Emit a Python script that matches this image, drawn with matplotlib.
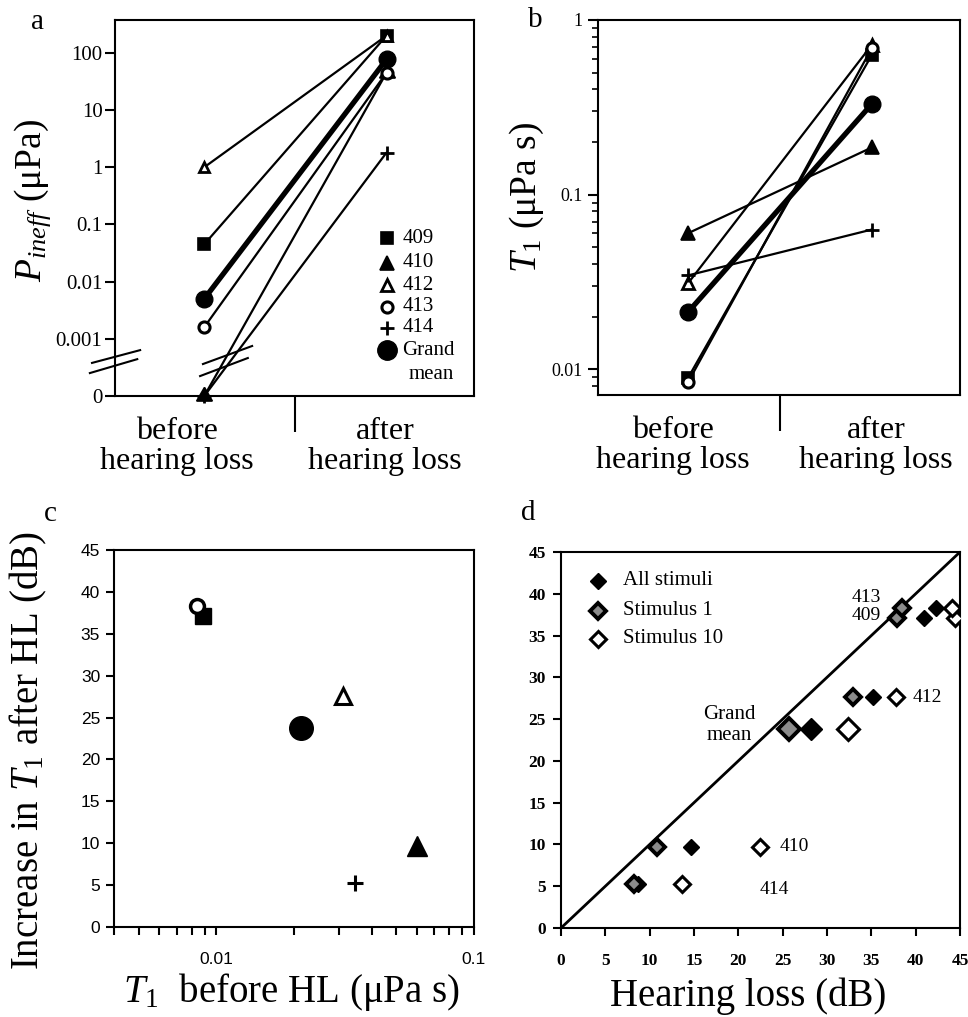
import matplotlib
matplotlib.use('Agg')
import matplotlib.pyplot as plt
from matplotlib.ticker import FixedLocator, FixedFormatter, NullLocator, NullFormatter, LogLocator

plt.rcParams['font.family'] = ['Liberation Serif', 'DejaVu Serif']
plt.rcParams['mathtext.fontset'] = 'custom'
plt.rcParams['mathtext.rm'] = 'Liberation Serif'
plt.rcParams['mathtext.it'] = 'Liberation Serif:italic'
plt.rcParams['axes.linewidth'] = 1.5

# ---------------- data ----------------
animals = ['409', '410', '412', '413', '414', 'Grand mean']
# panel a: P_ineff (uPa); 0 = below measurable, drawn on the "0" row
pineff_before = [0.045, 0, 1.0, 0.0016, 0, 0.005]
pineff_after = [200, 45, 200, 45, 1.8, 77]
# panel b: T1 (uPa s)
t1_before = [0.0089, 0.060, 0.031, 0.0084, 0.0344, 0.0212]
t1_after = [0.63, 0.186, 0.72, 0.69, 0.063, 0.33]
# panels c/d: increase in T1 after HL (dB)
t1_increase_db = [37.1, 9.7, 27.6, 38.3, 5.3, 23.8]
# panel d: hearing loss (dB)
hl_all = [40.9, 14.7, 35.2, 42.3, 8.7, 28.2]
hl_stim1 = [37.9, 10.8, 32.9, 38.5, 8.2, 25.7]
hl_stim10 = [44.4, 22.4, 37.8, 44.1, 13.6, 32.4]

conditions = ['before\nhearing loss', 'after\nhearing loss']
pineff_ticks = [100, 10, 1, 0.1, 0.01, 0.001, 1e-4]
pineff_ticklabels = ['100', '10', '1', '0.1', '0.01', '0.001', '0']
ZERO_ROW = 1e-4  # value axis position used for "0"

# ---------------- styles ----------------
styles = {
    '409': dict(marker='s', mfc='k', mec='k', ms=9, mew=1.2),
    '410': dict(marker='^', mfc='k', mec='k', ms=10, mew=1.2),
    '412': dict(marker='^', mfc='white', mec='k', ms=9, mew=2),
    '413': dict(marker='o', mfc='white', mec='k', ms=8, mew=2.2),
    '414': dict(marker='+', mfc='k', mec='k', ms=10, mew=2),
    'Grand mean': dict(marker='o', mfc='k', mec='k', ms=12, mew=1),
}

W, H = 968, 1017
fig = plt.figure(figsize=(W / 100, H / 100), dpi=100)


def fx(px):
    return px / W


def fy(py):
    return 1 - py / H


axa = fig.add_axes([fx(115), fy(396), fx(474) - fx(115), fy(20) - fy(396)])
axb = fig.add_axes([fx(598), fy(395), fx(960) - fx(598), fy(20) - fy(395)])
axc = fig.add_axes([fx(114), fy(927), fx(474) - fx(114), fy(550) - fy(927)])
axd = fig.add_axes([fx(561), fy(928), fx(960) - fx(561), fy(552) - fy(928)])

T1 = r'$T_{\mathit{1}}$'

# ---------------- panel a ----------------
for i, name in enumerate(animals):
    b = pineff_before[i] if pineff_before[i] > 0 else ZERO_ROW
    a = pineff_after[i] if pineff_after[i] > 0 else ZERO_ROW
    lw = 3.8 if name == 'Grand mean' else 1.6
    axa.plot([1, 2], [b, a], color='k', lw=lw, zorder=2, solid_capstyle='round')
for i, name in enumerate(animals):
    b = pineff_before[i] if pineff_before[i] > 0 else ZERO_ROW
    a = pineff_after[i] if pineff_after[i] > 0 else ZERO_ROW
    st = dict(styles[name])
    if name == '412':
        st['ms'] = 7
    if name == '410':
        st['marker'] = (3, 0, 0)
        st['ms'] = 13
    axa.plot([1, 2], [b, a], ls='none', zorder=3, clip_on=False, **st)

axa.set_yscale('log')
axa.set_ylim(ZERO_ROW, 375)
axa.set_xlim(0.51, 2.48)
axa.yaxis.set_major_locator(FixedLocator(pineff_ticks))
axa.yaxis.set_major_formatter(FixedFormatter(pineff_ticklabels))
axa.yaxis.set_minor_locator(NullLocator())
axa.tick_params(axis='y', direction='out', length=7, width=1.5, labelsize=15, pad=2)
axa.set_xticks([1.5])
axa.set_xticklabels([''])
axa.tick_params(axis='x', direction='out', length=26, width=1.5)
axa.text(0.173, -0.055, conditions[0], transform=axa.transAxes, ha='center', va='top',
         fontsize=23, linespacing=1.05)
axa.text(0.752, -0.055, conditions[1], transform=axa.transAxes, ha='center', va='top',
         fontsize=23, linespacing=1.05)

# axis breaks
for (x0, y0, x1, y1) in [(-0.064, 0.088, 0.07, 0.122), (-0.07, 0.061, 0.062, 0.098),
                         (0.245, 0.085, 0.382, 0.133), (0.237, 0.053, 0.370, 0.101)]:
    axa.plot([x0, x1], [y0, y1], color='k', lw=1.5, transform=axa.transAxes, clip_on=False, zorder=5)

# legend a
leg_y = [0.42, 0.354, 0.295, 0.237, 0.181, 0.122]
for name, yy in zip(animals, leg_y):
    st = dict(styles[name])
    if name == 'Grand mean':
        st['ms'] = 14
        lab = 'Grand'
    else:
        lab = name
    axa.plot([0.758], [yy], ls='none', transform=axa.transAxes, clip_on=False, **st)
    axa.text(0.80, yy, lab, transform=axa.transAxes, ha='left', va='center', fontsize=15)
axa.text(0.88, 0.058, 'mean', transform=axa.transAxes, ha='center', va='center', fontsize=15)

fig.text(fx(33), fy(200), r'$P_{ineff}$ (μPa)', rotation=90, ha='center', va='center', fontsize=27)

# ---------------- panel b ----------------
for i, name in enumerate(animals):
    lw = 3.8 if name == 'Grand mean' else 1.6
    axb.plot([1, 2], [t1_before[i], t1_after[i]], color='k', lw=lw, zorder=2)
for i, name in enumerate(animals):
    axb.plot([1, 2], [t1_before[i], t1_after[i]], ls='none', zorder=3, **styles[name])
axb.set_yscale('log')
axb.set_ylim(0.0071, 1)
axb.set_xlim(0.51, 2.48)
axb.yaxis.set_major_locator(FixedLocator([0.01, 0.1, 1]))
axb.yaxis.set_major_formatter(FixedFormatter(['0.01', '0.1', '1']))
axb.yaxis.set_minor_locator(LogLocator(base=10, subs=[2, 3, 4, 5, 6, 7, 8, 9]))
axb.yaxis.set_minor_formatter(NullFormatter())
axb.tick_params(axis='y', which='major', direction='out', length=7, width=1.5, labelsize=13, pad=4)
axb.tick_params(axis='y', which='minor', direction='out', length=4, width=1.2)
axb.set_xticks([1.5])
axb.set_xticklabels([''])
axb.tick_params(axis='x', direction='out', length=26, width=1.5)
axb.text(0.206, -0.055, conditions[0], transform=axb.transAxes, ha='center', va='top',
         fontsize=23, linespacing=1.05)
axb.text(0.768, -0.055, conditions[1], transform=axb.transAxes, ha='center', va='top',
         fontsize=23, linespacing=1.05)
fig.text(fx(527), fy(197), T1 + ' (μPa s)', rotation=90, ha='center', va='center', fontsize=27)

# ---------------- panel c ----------------
c_styles = {
    '409': dict(marker='s', mfc='k', mec='k', ms=11, mew=1),
    '410': dict(marker='^', mfc='k', mec='k', ms=14, mew=1),
    '412': dict(marker='^', mfc='white', mec='k', ms=11, mew=2.2),
    '413': dict(marker='o', mfc='white', mec='k', ms=10, mew=2.5),
    '414': dict(marker='+', mfc='k', mec='k', ms=12, mew=2.2),
    'Grand mean': dict(marker='o', mfc='k', mec='k', ms=17, mew=1),
}
for i, name in enumerate(animals):
    axc.plot([t1_before[i]], [t1_increase_db[i]], ls='none', zorder=3, **c_styles[name])
axc.set_xscale('log')
axc.set_xlim(0.004, 0.1)
axc.set_ylim(0, 45)
axc.yaxis.set_major_locator(FixedLocator(list(range(0, 46, 5))))
axc.xaxis.set_major_locator(FixedLocator([0.01, 0.1]))
axc.xaxis.set_major_formatter(FixedFormatter(['0.01', '0.1']))
axc.xaxis.set_minor_locator(LogLocator(base=10, subs=[2, 3, 4, 5, 6, 7, 8, 9]))
axc.xaxis.set_minor_formatter(NullFormatter())
axc.tick_params(axis='both', which='major', direction='out', length=6, width=1.5, labelsize=12.5)
axc.tick_params(axis='x', which='major', pad=12)
axc.tick_params(axis='y', which='major', pad=4)
axc.tick_params(axis='x', which='minor', direction='out', length=6, width=1.5)
for lab in axc.get_xticklabels() + axc.get_yticklabels():
    lab.set_family(['Liberation Sans', 'DejaVu Sans'])
fig.text(fx(28), fy(750), 'Increase in ' + T1 + ' after HL (dB)', rotation=90,
         ha='center', va='center', fontsize=28)
fig.text(fx(291), fy(992), T1 + '  before HL (μPa s)', ha='center', va='center', fontsize=28)

# ---------------- panel d ----------------
axd.plot([0, 45], [0, 45], color='k', lw=2, zorder=2)
for i, name in enumerate(animals):
    big = name == 'Grand mean'
    ms = 11 if big else 8.5
    axd.plot([hl_all[i]], [t1_increase_db[i]], ls='none', marker='D', ms=ms, mfc='k', mec='k', mew=1, zorder=3)
    axd.plot([hl_stim1[i]], [t1_increase_db[i]], ls='none', marker='D', ms=ms, mfc='#8c8c8c', mec='k', mew=2.8, zorder=3)
    axd.plot([hl_stim10[i]], [t1_increase_db[i]], ls='none', marker='D', ms=ms, mfc='white', mec='k', mew=2.2, zorder=3)
axd.set_xlim(0, 45)
axd.set_ylim(0, 45)
axd.xaxis.set_major_locator(FixedLocator(list(range(0, 46, 5))))
axd.yaxis.set_major_locator(FixedLocator(list(range(0, 46, 5))))
axd.tick_params(axis='both', direction='out', length=6, width=1.5, labelsize=12.5)
axd.tick_params(axis='x', pad=12)
axd.tick_params(axis='y', pad=5)
for lab in axd.get_xticklabels() + axd.get_yticklabels():
    lab.set_fontweight('bold')

leg_items = [('All stimuli', dict(mfc='k', mew=1)),
             ('Stimulus 1', dict(mfc='#8c8c8c', mew=2.8)),
             ('Stimulus 10', dict(mfc='white', mew=2.2))]
for (lab, st), yy in zip(leg_items, [0.924, 0.844, 0.769]):
    axd.plot([0.093], [yy], ls='none', marker='D', ms=8.5, mec='k', transform=axd.transAxes, **st)
    axd.text(0.156, yy, lab, transform=axd.transAxes, ha='left', va='center', fontsize=15)

axd.text(34.4, 39.5, '413', ha='center', va='center', fontsize=14)
axd.text(34.4, 37.4, '409', ha='center', va='center', fontsize=14)
axd.text(39.7, 27.6, '412', ha='left', va='center', fontsize=14)
axd.text(19.0, 24.3, 'Grand\nmean', ha='center', va='center', fontsize=15, linespacing=1.1)
axd.text(24.7, 9.7, '410', ha='left', va='center', fontsize=14)
axd.text(22.4, 4.6, '414', ha='left', va='center', fontsize=14)
fig.text(fx(748), fy(996), 'Hearing loss (dB)', ha='center', va='center', fontsize=28)

# panel letters
fig.text(fx(37), fy(22), 'a', ha='center', va='center', fontsize=21)
fig.text(fx(535), fy(20), 'b', ha='center', va='center', fontsize=21)
fig.text(fx(50), fy(514), 'c', ha='center', va='center', fontsize=21)
fig.text(fx(528), fy(513), 'd', ha='center', va='center', fontsize=21)

fig.savefig('out.png', dpi=100)
